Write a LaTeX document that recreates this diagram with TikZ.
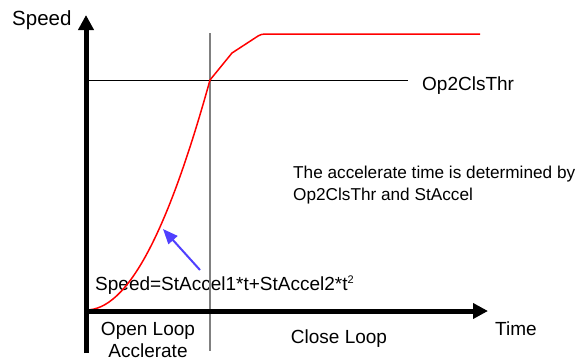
\documentclass[tikz,border=0pt]{standalone}
\usepackage{fontspec}
\setmainfont{Liberation Sans}
\usetikzlibrary{arrows.meta}

\definecolor{pointer}{RGB}{80,64,255}
\tikzset{
  axis/.style={line width=5pt, -{Triangle[length=15pt,width=15pt]}},
  guide/.style={line width=1pt},
  divider/.style={gray, line width=1.5pt},
  speedcurve/.style={red, line width=1.5pt, line join=round},
  pointer arrow/.style={pointer, line width=2pt, -{Triangle[length=15pt,width=12pt]}},
  lbl/.style={inner sep=0pt, font=\fontsize{19}{23}\selectfont},
  notelbl/.style={inner sep=0pt, font=\fontsize{17.2}{21}\selectfont},
}

\begin{document}
\begin{tikzpicture}[x=1pt, y=-1pt]
  \useasboundingbox (0,0) rectangle (579,362);

  \coordinate (ybot) at (86,353);
  \coordinate (ytop) at (86,15);
  \coordinate (origin) at (86,311);
  \coordinate (xend) at (488,311);
  \coordinate (switch) at (210,80);
  \coordinate (divtop) at (210,33);
  \coordinate (divbot) at (210,351);
  \coordinate (tail) at (200,270);
  \coordinate (hit) at (163,229);

  % labels
  \node[lbl, anchor=base west] (ylab) at (12,25) {\fontsize{20.5}{23}\selectfont Speed};
  \node[lbl, anchor=base west] (xlab) at (495,335) {Time};
  \node[lbl, anchor=base west] (thr) at (422,90) {Op2ClsThr};
  \node[notelbl, anchor=base west] (note1) at (293,178) {The accelerate time is determined by};
  \node[notelbl, anchor=base west] (note2) at (293,200) {Op2ClsThr and StAccel};
  \node[lbl, anchor=base west] (formula) at (95,290)
    {Speed=StAccel1*t+StAccel2*t\raisebox{7pt}{\fontsize{11}{11}\selectfont 2}};
  \node[lbl, anchor=base] (open1) at (148,335) {Open Loop};
  \node[lbl, anchor=base] (open2) at (148,357) {Acclerate};
  \node[lbl, anchor=base] (close) at (339,343) {Close Loop};

  % threshold and switch-over
  \draw[divider] (divtop) -- (divbot);
  \draw[guide] (86,80) -- ([xshift=-14pt]thr.west |- switch);

  % speed profile
  \draw[speedcurve] (86,310) .. controls (127,310) and (167,235) .. (switch)
    -- (232,53) -- (255,38) .. controls (261,34) .. (270,34) -- (480,34);

  \draw[pointer arrow] (tail) -- (hit);

  % axes
  \draw[axis] (ybot) -- (ytop);
  \draw[axis] (origin) -- (xend);
\end{tikzpicture}
\end{document}
